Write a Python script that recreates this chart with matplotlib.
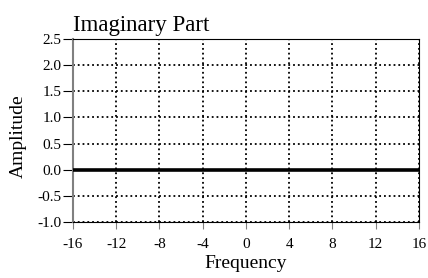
import numpy as np
import matplotlib
matplotlib.use("Agg")
import matplotlib.pyplot as plt

plt.rcParams['font.family'] = ['Liberation Serif', 'DejaVu Serif']
plt.rcParams['axes.unicode_minus'] = False

# imaginary part of the spectrum (all zeros)
frequency = [-16, -15, -14, -13, -12, -11, -10, -9, -8, -7, -6, -5, -4, -3, -2, -1, 0,
             1, 2, 3, 4, 5, 6, 7, 8, 9, 10, 11, 12, 13, 14, 15, 16]
amplitude = [0.0] * len(frequency)
xticks = [-16, -12, -8, -4, 0, 4, 8, 12, 16]
yticks = [-1.0, -0.5, 0.0, 0.5, 1.0, 1.5, 2.0, 2.5]

fig = plt.figure(figsize=(4.28, 2.78), dpi=100)
ax = fig.add_axes([0.1706, 0.2014, 0.808, 0.658])

ax.plot(frequency, amplitude, color='black', linewidth=2.6, zorder=3)

ax.set_xlim(-16, 16)
ax.set_ylim(-1.0, 2.5)
ax.set_xticks(xticks)
ax.set_yticks(yticks)
ax.set_yticklabels(['{:.1f}'.format(v) for v in yticks])
ax.grid(True, linestyle=':', color='black', linewidth=1.3)
ax.tick_params(labelsize=11)
ax.tick_params(axis='x', length=5, width=0.8, color='gray', pad=6.5)
ax.tick_params(axis='y', length=7.5, width=0.8, color='black', pad=1)
ax.spines['left'].set_color('gray')
ax.spines['left'].set_linewidth(1.5)

ax.set_xlabel('Frequency', fontsize=14, labelpad=3)
ax.set_ylabel('Amplitude', fontsize=14)
ax.yaxis.set_label_coords(-0.135, 0.47)
ax.set_title('Imaginary Part', fontsize=16.5, loc='left', pad=5.5)

fig.savefig('out.png', dpi=100)
